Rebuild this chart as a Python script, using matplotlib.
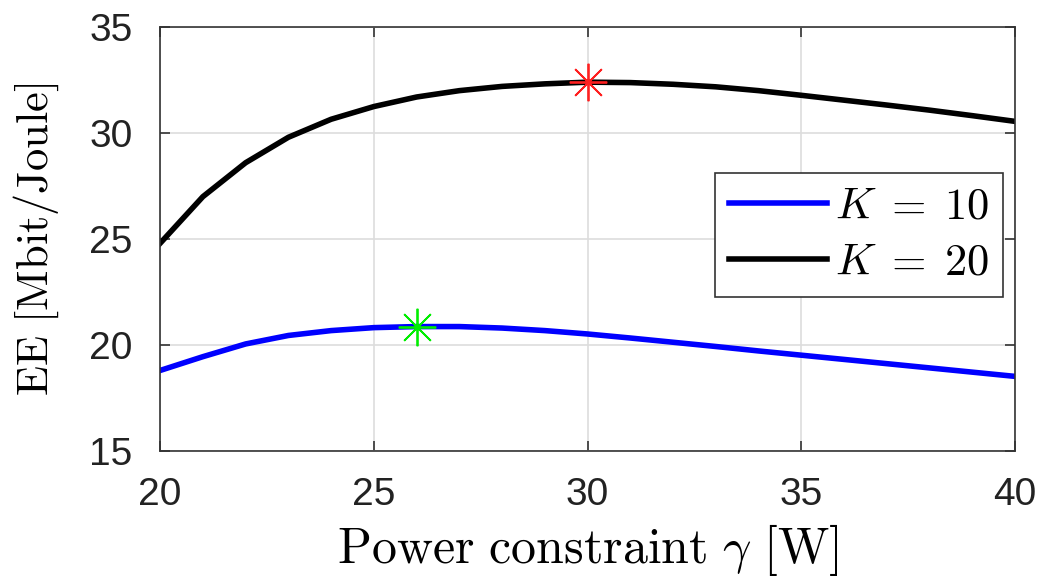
import matplotlib.pyplot as plt

plt.rcParams['mathtext.fontset'] = 'cm'
plt.rcParams['font.family'] = ['Liberation Sans', 'DejaVu Sans']

gamma = [20, 21, 22, 23, 24, 25, 26, 27, 28, 29, 30,
         31, 32, 33, 34, 35, 36, 37, 38, 39, 40]
ee_k10 = [18.8, 19.45, 20.05, 20.45, 20.68, 20.82, 20.87, 20.87, 20.8, 20.68, 20.52,
          20.33, 20.13, 19.93, 19.72, 19.52, 19.32, 19.12, 18.92, 18.72, 18.52]
ee_k20 = [24.8, 27.0, 28.6, 29.8, 30.65, 31.25, 31.7, 32.0, 32.2, 32.32, 32.4,
          32.38, 32.3, 32.18, 32.0, 31.78, 31.55, 31.32, 31.08, 30.82, 30.55]
opt_k10 = (26, 20.87)
opt_k20 = (30, 32.4)

fig = plt.figure(figsize=(10.4, 5.88), dpi=100)
ax = fig.add_axes([0.154, 0.233, 0.822, 0.721])

ax.plot(gamma, ee_k10, color='#0000ff', lw=4, label=r'$K\;=\;10$')
ax.plot(gamma, ee_k20, color='black', lw=4, label=r'$K\;=\;20$')
# asterisk markers at the optima
ax.plot(*opt_k10, marker=(8, 2, 0), color='#00ee00', ms=27, mew=1.3, ls='none')
ax.plot(*opt_k20, marker=(8, 2, 0), color='#ff2020', ms=27, mew=1.3, ls='none')

ax.set_xlim(20, 40)
ax.set_ylim(15, 35)
ax.set_xticks([20, 25, 30, 35, 40])
ax.set_yticks([15, 20, 25, 30, 35])
ax.grid(True, color='#dddddd', lw=1.2)
ax.tick_params(direction='in', top=True, right=True, labelsize=28, length=7,
               width=1.2, color='#333333', labelcolor='#222222')
ax.tick_params(axis='x', pad=19)
ax.tick_params(axis='y', pad=20)
for s in ax.spines.values():
    s.set_color('#333333')
    s.set_linewidth(1.2)

ax.set_xlabel(r'$\mathrm{Power\ constraint}\ \gamma\ \mathrm{[W]}$', fontsize=36, labelpad=6)
ax.set_ylabel(r'$\mathrm{EE\ [Mbit/Joule]}$', fontsize=32, labelpad=20)

leg = ax.legend(loc='upper right', bbox_to_anchor=(0.986, 0.656), fontsize=32,
                fancybox=False, framealpha=1, edgecolor='#333333',
                handlelength=2.2, handletextpad=0.2, borderpad=0.3,
                labelspacing=0.35, borderaxespad=0)
leg.get_frame().set_linewidth(1.2)

fig.savefig('out.png', dpi=100)
